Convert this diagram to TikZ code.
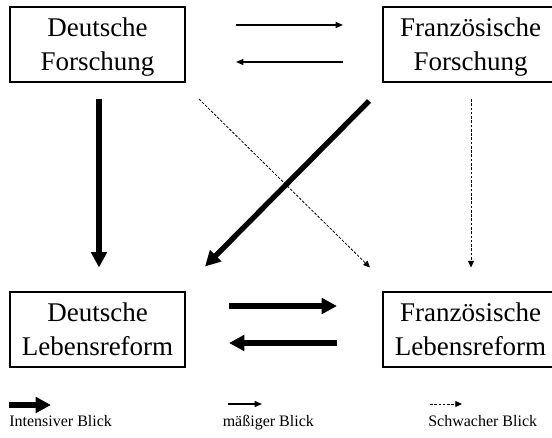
\documentclass[tikz,border=0pt]{standalone}
\usepackage{fontspec}
\setmainfont{Liberation Serif}
\usetikzlibrary{arrows.meta, calc}

\begin{document}
\begin{tikzpicture}[x=0.75pt, y=-0.75pt,
  feld/.style={draw, line width=1.5pt, minimum width=131.25pt, minimum height=56.25pt,
    align=center, text depth=0pt, font=\fontsize{20.25}{25.5}\selectfont},
  legende/.style={anchor=base west, inner sep=0pt, font=\fontsize{12}{14}\selectfont},
  stark/.style={line width=4pt, -{Triangle[length=11.5pt, width=11.5pt]}},
  mittel/.style={line width=1pt, -{Triangle[length=5.5pt, width=4.5pt]}},
  schwach/.style={line width=0.6pt, dash pattern=on 2pt off 1.2pt, -{Triangle[length=5pt, width=4.5pt]}}]

\clip (0,0) rectangle (552,438);

% Forschung oben, Lebensreform unten
\node[feld] (DF) at (97.5, 44.5) {Deutsche\\Forschung};
\node[feld] (FF) at (470.5, 44.5) {Französische\\Forschung};
\node[feld] (DL) at (97.5, 329) {Deutsche\\Lebensreform};
\node[feld] (FL) at (470.5, 329) {Französische\\Lebensreform};

% Blicke zwischen den Forschungen
\draw[mittel] ($(DF.east)+(50,-19.5)$) -- ($(FF.west)+(-39,-19.5)$);
\draw[mittel] ($(FF.west)+(-39,17.5)$) -- ($(DF.east)+(50,17.5)$);

% Blicke zwischen den Lebensreformen
\draw[stark] ($(DL.east)+(43,-23)$) -- ($(FL.west)+(-45,-23)$);
\draw[stark] ($(FL.west)+(-45,14)$) -- ($(DL.east)+(43,14)$);

% Blicke von der Forschung auf die Lebensreform
\draw[stark] ($(DF.south)+(1.5,16)$) -- ($(DL.north)+(1.5,-23)$);
\draw[schwach] ($(FF.south)+(0.5,16)$) -- ($(FL.north)+(0.5,-23)$);
\draw[schwach] ($(DF.south east)+(13,16)$) -- ($(FL.north west)+(-12,-23)$);
\draw[stark] ($(FF.south west)+(-13,18)$) -- ($(DL.north east)+(19,-24)$);

% Legende
\node[legende] (lgStark) at (9, 426) {Intensiver Blick};
\node[legende] (lgMittel) at (222.5, 426) {mäßiger Blick};
\node[legende] (lgSchwach) at (428, 426) {Schwacher Blick};
\draw[stark] ($(lgStark.base west)+(0,-21)$) -- ++(42,0);
\draw[mittel] ($(lgMittel.base west)+(5.5,-22)$) -- ++(34,0);
\draw[schwach] ($(lgSchwach.base west)+(2,-22)$) -- ++(32,0);

\end{tikzpicture}
\end{document}
